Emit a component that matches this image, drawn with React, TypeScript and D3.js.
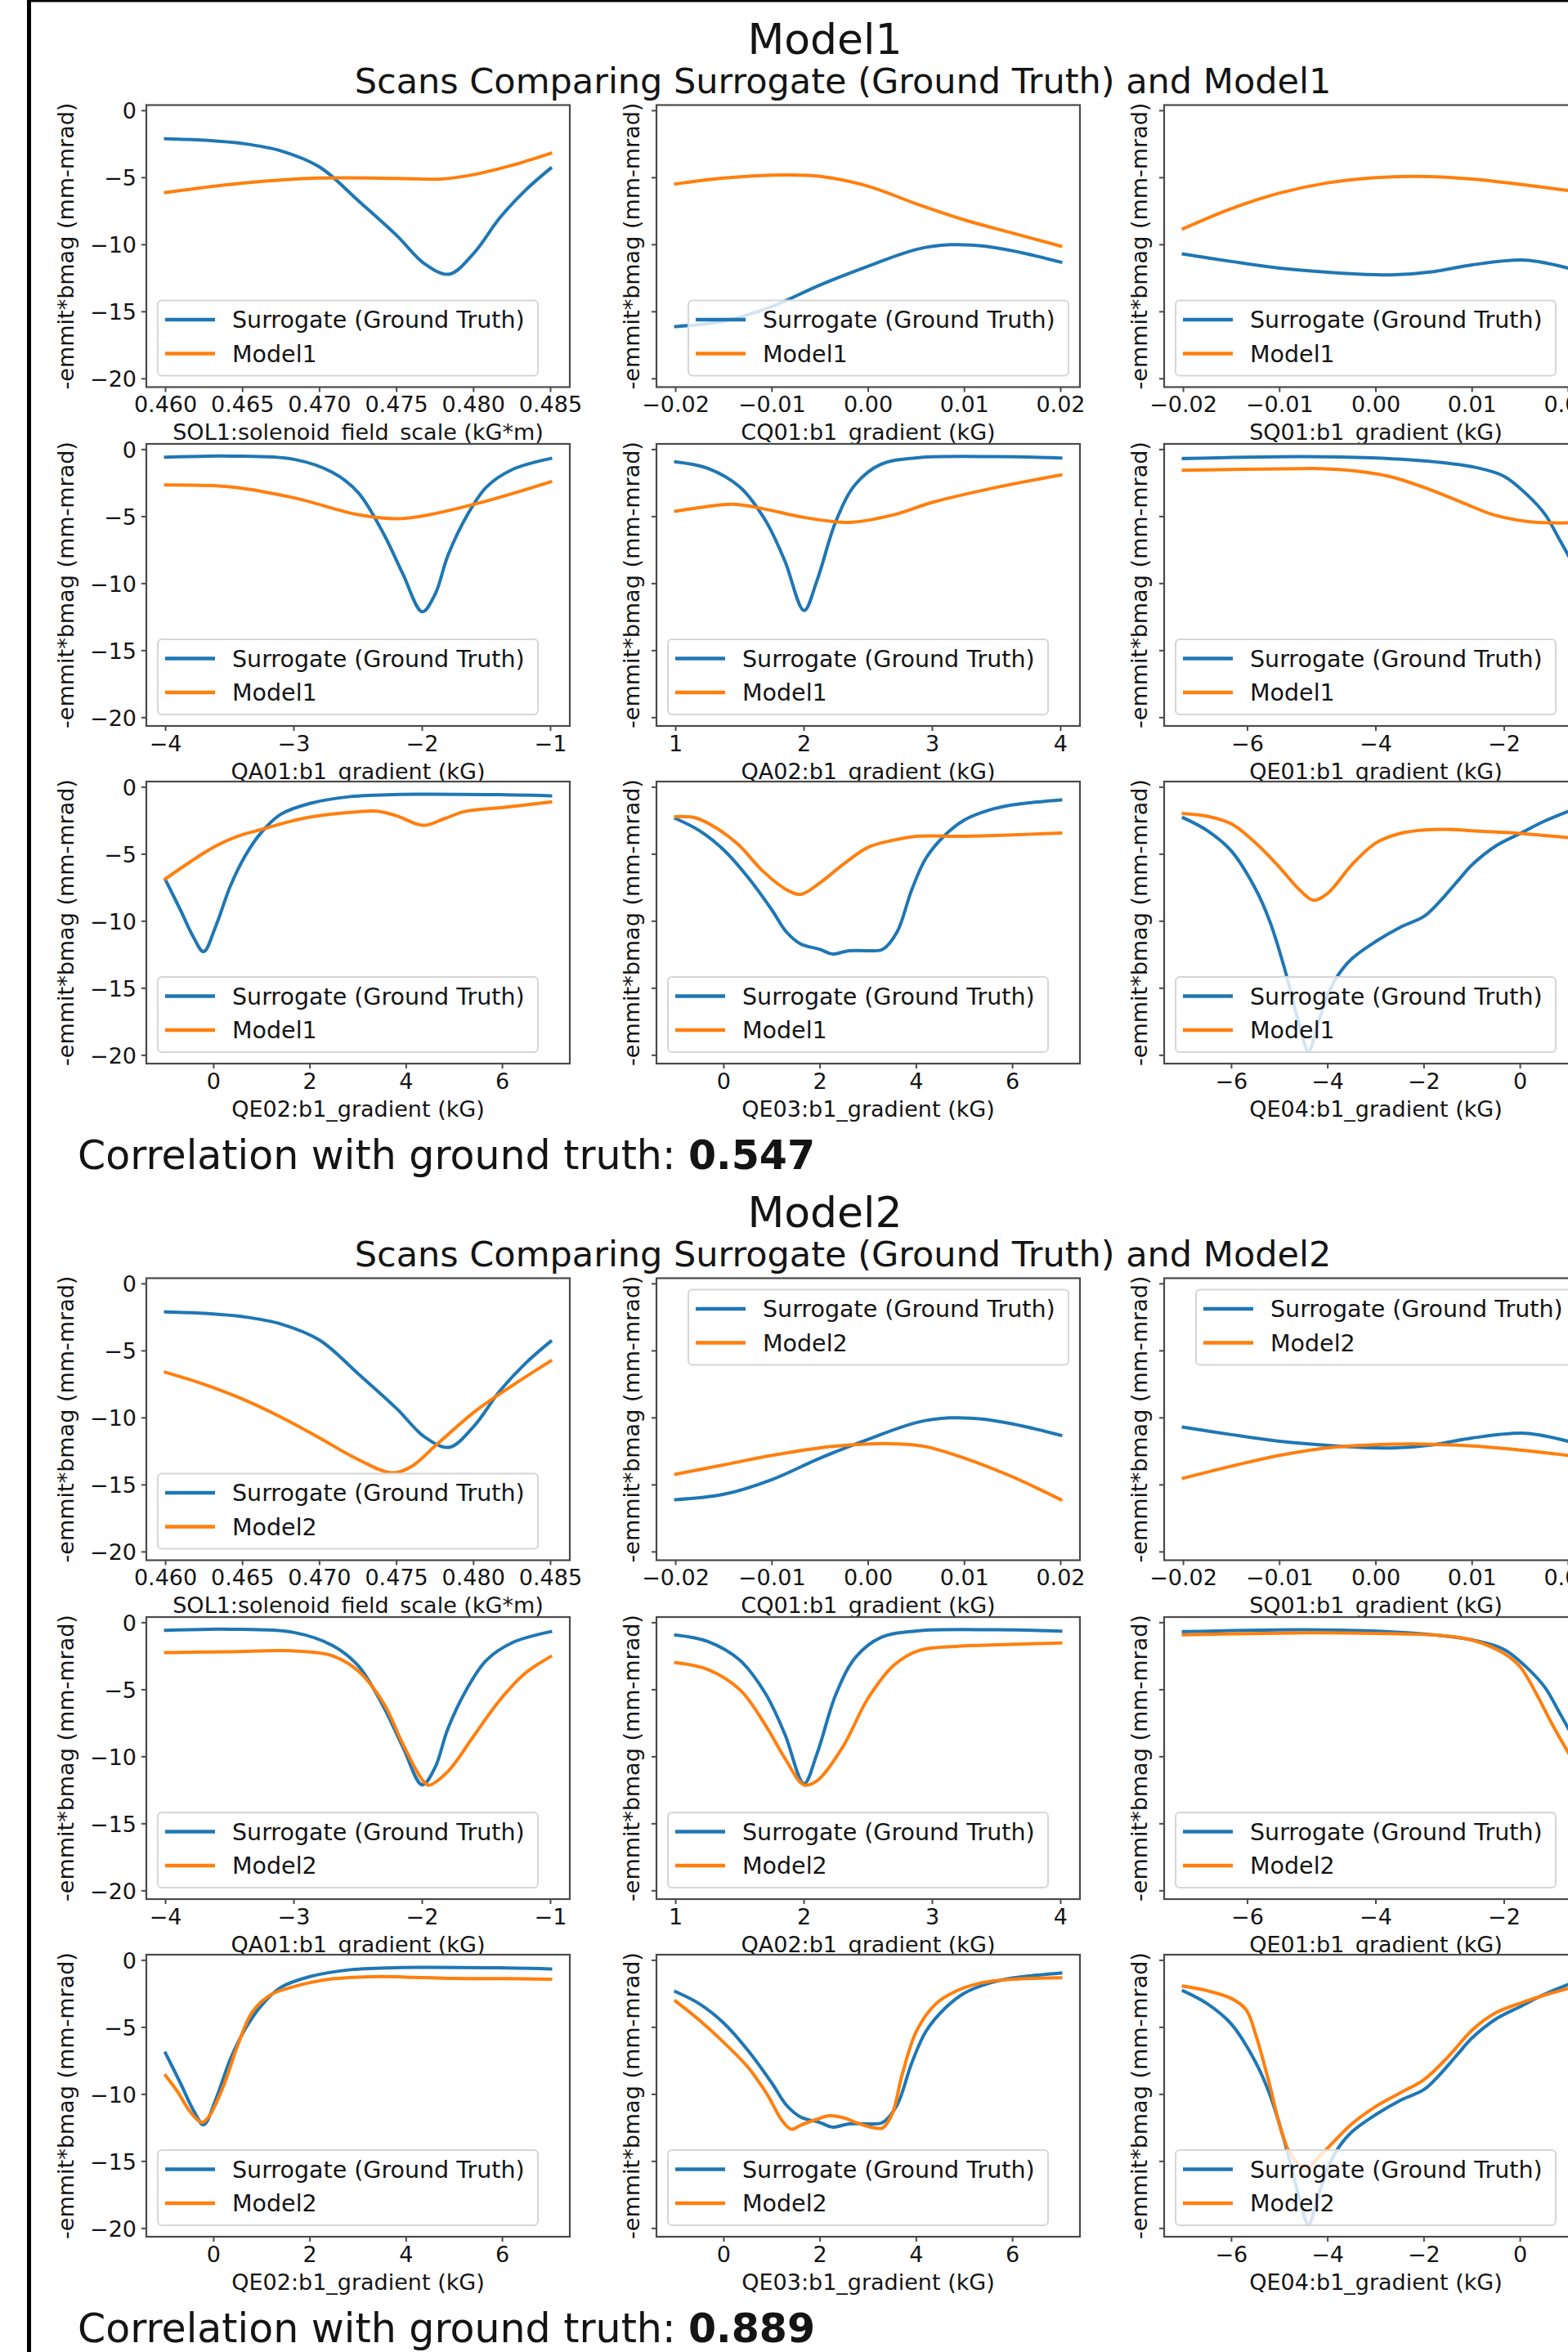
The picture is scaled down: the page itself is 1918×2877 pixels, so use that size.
import React from "react";
import * as d3 from "d3";

const W = 1918;
const H = 2877;
const FONT = "'DejaVu Sans', 'Liberation Sans', sans-serif";
const BLUE = "#1f77b4";
const ORANGE = "#ff7f0e";
const INK = "#141414";

// ---------- axis definitions ----------
const Y_TICKS = [0, -5, -10, -15, -20];
const Y_DOMAIN: [number, number] = [-20.62, 0.42];

const SOL1_TICKS = [0.46, 0.465, 0.47, 0.475, 0.48, 0.485];
const CQ01_TICKS = [-0.02, -0.01, 0, 0.01, 0.02];
const SQ01_TICKS = [-0.02, -0.01, 0, 0.01, 0.02];
const QA01_TICKS = [-4, -3, -2, -1];
const QA02_TICKS = [1, 2, 3, 4];
const QE01_TICKS = [-6, -4, -2];
const QE02_TICKS = [0, 2, 4, 6];
const QE03_TICKS = [0, 2, 4, 6];
const QE04_TICKS = [-6, -4, -2, 0];

const X_LABELS = [
  "SOL1:solenoid_field_scale (kG*m)",
  "CQ01:b1_gradient (kG)",
  "SQ01:b1_gradient (kG)",
  "QA01:b1_gradient (kG)",
  "QA02:b1_gradient (kG)",
  "QE01:b1_gradient (kG)",
  "QE02:b1_gradient (kG)",
  "QE03:b1_gradient (kG)",
  "QE04:b1_gradient (kG)",
];
const X_RANGES: [number, number][] = [
  [0.46, 0.485], [-0.02, 0.02], [-0.02, 0.02],
  [-4, -1], [1, 4], [-7, -1],
  [-1, 7], [-1, 7], [-7, 1],
];

// ---------- surrogate (ground truth) ----------
const SOL1_SURR_X = [0.46, 0.4625, 0.465, 0.4675, 0.47, 0.4725, 0.475, 0.4768, 0.4784, 0.48, 0.4817, 0.4834, 0.485];
const SOL1_SURR_Y = [-2.09, -2.2, -2.45, -3.0, -4.2, -6.7, -9.3, -11.4, -12.2, -10.65, -8.0, -5.9, -4.3];
const CQ01_SURR_X = [-0.02, -0.015, -0.01, -0.005, 0, 0.005, 0.0085, 0.012, 0.016, 0.02];
const CQ01_SURR_Y = [-16.1, -15.7, -14.6, -13.0, -11.6, -10.35, -10.0, -10.1, -10.6, -11.3];
const SQ01_SURR_X = [-0.02, -0.015, -0.01, -0.005, 0, 0.002, 0.006, 0.01, 0.0155, 0.02];
const SQ01_SURR_Y = [-10.7, -11.25, -11.74, -12.05, -12.24, -12.24, -12.0, -11.5, -11.15, -11.75];
const QA01_SURR_X = [-4, -3.5, -3, -2.7, -2.5, -2.3, -2.15, -2.0, -1.9, -1.8, -1.65, -1.5, -1.3, -1.0];
const QA01_SURR_Y = [-0.57, -0.49, -0.73, -1.7, -3.2, -6.3, -9.3, -12.1, -10.8, -7.9, -4.9, -2.8, -1.5, -0.67];
const QA02_SURR_X = [1.0, 1.25, 1.5, 1.7, 1.85, 2.0, 2.1, 2.25, 2.4, 2.6, 2.9, 3.5, 4.0];
const QA02_SURR_Y = [-0.92, -1.4, -2.8, -5.3, -8.3, -12.0, -9.8, -5.3, -2.6, -1.1, -0.6, -0.53, -0.63];
const QE01_SURR_X = [-7, -5.15, -4.06, -2.98, -2.44, -2.0, -1.63, -1.36, -1.14, -1.0];
const QE01_SURR_Y = [-0.67, -0.52, -0.62, -0.97, -1.34, -2.0, -3.43, -4.86, -6.7, -7.9];
const QE02_SURR_X = [-1, -0.69, -0.42, -0.21, 0.04, 0.35, 0.66, 0.97, 1.39, 2.0, 2.84, 3.88, 5.95, 7.0];
const QE02_SURR_Y = [-6.93, -9.17, -11.2, -12.27, -10.4, -7.34, -5.09, -3.46, -2.03, -1.21, -0.7, -0.54, -0.56, -0.64];
const QE03_SURR_X = [-1, -0.5, 0, 0.5, 1, 1.3, 1.6, 2, 2.25, 2.6, 3.0, 3.3, 3.6, 3.9, 4.2, 4.6, 5.0, 5.5, 6.0, 6.5, 7.0];
const QE03_SURR_Y = [-2.34, -3.26, -4.69, -6.72, -9.17, -10.8, -11.7, -12.1, -12.44, -12.2, -12.2, -12.1, -10.8, -7.7, -5.3, -3.56, -2.44, -1.72, -1.32, -1.11, -0.95];
const QE04_SURR_X = [-7, -6.5, -6, -5.5, -5.2, -4.9, -4.6, -4.4, -4.2, -4.0, -3.8, -3.5, -3.0, -2.5, -2.0, -1.7, -1.3, -1.0, -0.5, 0, 0.5, 1.0];
const QE04_SURR_Y = [-2.29, -3.25, -4.77, -7.6, -10.05, -13.5, -17.6, -19.7, -17.6, -15.5, -14.1, -12.8, -11.5, -10.46, -9.64, -8.63, -7.0, -5.79, -4.37, -3.45, -2.54, -1.8];

// ---------- Model1 ----------
const SOL1_M1_X = [0.46, 0.465, 0.47, 0.475, 0.4779, 0.48, 0.4824, 0.485];
const SOL1_M1_Y = [-6.1, -5.4, -5.03, -5.05, -5.1, -4.77, -4.1, -3.18];
const CQ01_M1_X = [-0.02, -0.015, -0.0085, -0.005, 0, 0.005, 0.01, 0.015, 0.02];
const CQ01_M1_Y = [-5.47, -5.03, -4.8, -4.9, -5.64, -6.95, -8.15, -9.13, -10.1];
const SQ01_M1_X = [-0.02, -0.015, -0.01, -0.005, 0, 0.0043, 0.01, 0.015, 0.02];
const SQ01_M1_Y = [-8.8, -7.3, -6.14, -5.38, -4.99, -4.9, -5.1, -5.5, -5.95];
const QA01_M1_X = [-4, -3.5, -3, -2.5, -2.2, -2.0, -1.5, -1.0];
const QA01_M1_Y = [-2.65, -2.78, -3.6, -4.86, -5.16, -4.96, -3.84, -2.41];
const QA02_M1_X = [1.0, 1.25, 1.45, 1.7, 2.0, 2.35, 2.7, 3.0, 3.5, 4.0];
const QA02_M1_Y = [-4.6, -4.24, -4.08, -4.45, -5.06, -5.43, -4.86, -3.94, -2.82, -1.9];
const QE01_M1_X = [-7, -5.15, -4.88, -4.33, -3.79, -3.25, -2.71, -2.17, -1.63, -1.25, -1.0];
const QE01_M1_Y = [-1.55, -1.42, -1.42, -1.59, -2.0, -2.82, -3.84, -4.86, -5.37, -5.47, -5.47];
const QE02_M1_X = [-1, -0.5, 0, 0.5, 1, 1.5, 2, 3, 3.4, 3.8, 4.35, 4.8, 5.2, 6, 7];
const QE02_M1_Y = [-6.83, -5.6, -4.48, -3.66, -3.15, -2.64, -2.23, -1.83, -1.79, -2.13, -2.85, -2.34, -1.83, -1.52, -1.11];
const QE03_M1_X = [-1, -0.6, -0.2, 0.3, 0.8, 1.3, 1.6, 2.0, 2.5, 3.0, 3.5, 4.0, 5.0, 6.0, 7.0];
const QE03_M1_Y = [-2.2, -2.28, -2.95, -4.28, -6.22, -7.64, -7.99, -7.13, -5.7, -4.48, -3.97, -3.66, -3.66, -3.56, -3.42];
const QE04_M1_X = [-7, -6.5, -6, -5.5, -5.0, -4.6, -4.3, -4.0, -3.5, -3.0, -2.5, -2.0, -1.5, -1.0, -0.5, 0, 0.5, 1.0];
const QE04_M1_Y = [-1.97, -2.17, -2.74, -4.16, -5.99, -7.61, -8.43, -7.92, -5.79, -4.16, -3.45, -3.19, -3.15, -3.25, -3.35, -3.45, -3.6, -3.76];

// ---------- Model2 ----------
const SOL1_M2_X = [0.46, 0.4625, 0.465, 0.4675, 0.47, 0.4725, 0.4747, 0.476, 0.4775, 0.48, 0.4825, 0.485];
const SOL1_M2_Y = [-6.6, -7.5, -8.6, -9.95, -11.5, -13.1, -14.1, -13.6, -12.1, -9.6, -7.6, -5.76];
const CQ01_M2_X = [-0.02, -0.015, -0.01, -0.005, 0, 0.003, 0.006, 0.01, 0.015, 0.02];
const CQ01_M2_Y = [-14.2, -13.5, -12.8, -12.23, -11.94, -11.94, -12.15, -13.0, -14.4, -16.1];
const SQ01_M2_X = [-0.02, -0.015, -0.01, -0.005, 0, 0.004, 0.01, 0.015, 0.02];
const SQ01_M2_Y = [-14.5, -13.6, -12.8, -12.23, -12.0, -11.94, -12.1, -12.4, -12.8];
const QA01_M2_X = [-4, -3.5, -3, -2.7, -2.5, -2.3, -2.15, -2.0, -1.95, -1.8, -1.6, -1.4, -1.2, -1.0];
const QA01_M2_Y = [-2.23, -2.17, -2.11, -2.47, -3.59, -6.03, -9.07, -11.72, -12.12, -11.1, -8.47, -5.83, -3.79, -2.53];
const QA02_M2_X = [1.0, 1.25, 1.5, 1.7, 1.85, 2.0, 2.1, 2.3, 2.5, 2.7, 2.9, 3.2, 3.6, 4.0];
const QA02_M2_Y = [-2.98, -3.49, -5.0, -7.65, -10.1, -12.1, -11.8, -9.3, -5.62, -3.18, -2.06, -1.76, -1.62, -1.51];
const QE01_M2_X = [-7, -6, -5, -4, -3, -2.5, -2.0, -1.75, -1.5, -1.25, -1.0];
const QE01_M2_Y = [-0.9, -0.82, -0.76, -0.8, -0.95, -1.3, -2.3, -3.3, -5.3, -7.6, -9.7];
const QE02_M2_X = [-1, -0.75, -0.5, -0.25, -0.1, 0.2, 0.5, 0.8, 1.2, 1.6, 2.0, 2.5, 3.0, 3.5, 4.0, 5.0, 6.0, 7.0];
const QE02_M2_Y = [-8.6, -9.8, -11.25, -12.1, -11.66, -9.4, -6.33, -3.87, -2.54, -2.03, -1.66, -1.37, -1.25, -1.21, -1.25, -1.35, -1.37, -1.41];
const QE03_M2_X = [-1, -0.5, 0, 0.5, 0.9, 1.2, 1.4, 1.6, 1.9, 2.2, 2.5, 2.8, 3.1, 3.3, 3.5, 3.7, 4.0, 4.4, 4.8, 5.3, 6.0, 7.0];
const QE03_M2_Y = [-3.05, -4.49, -6.13, -7.97, -10.0, -11.9, -12.6, -12.3, -11.9, -11.6, -11.76, -12.17, -12.48, -12.5, -11.45, -8.6, -5.3, -3.26, -2.34, -1.72, -1.41, -1.31];
const QE04_M2_X = [-7, -6.5, -6, -5.7, -5.5, -5.2, -5.0, -4.8, -4.6, -4.45, -4.25, -4.0, -3.5, -3.0, -2.5, -2.0, -1.5, -1.0, -0.5, 0, 0.5, 1.0];
const QE04_M2_Y = [-1.93, -2.27, -2.85, -3.67, -5.5, -9.4, -12.3, -14.3, -15.2, -15.6, -14.9, -14.0, -12.2, -10.9, -9.9, -8.9, -7.2, -5.2, -3.9, -3.2, -2.6, -2.1];

const MODEL_NAMES = ["Model1", "Model2"];
const CORRELATIONS = ["0.547", "0.889"];

// ---------- assembled ----------
const TICKS = [SOL1_TICKS, CQ01_TICKS, SQ01_TICKS, QA01_TICKS, QA02_TICKS, QE01_TICKS, QE02_TICKS, QE03_TICKS, QE04_TICKS];
const TICK_FMT = [".3f", ".2f", ".2f", "d", "d", "d", "d", "d", "d"];
const SURR = [
  [SOL1_SURR_X, SOL1_SURR_Y], [CQ01_SURR_X, CQ01_SURR_Y], [SQ01_SURR_X, SQ01_SURR_Y],
  [QA01_SURR_X, QA01_SURR_Y], [QA02_SURR_X, QA02_SURR_Y], [QE01_SURR_X, QE01_SURR_Y],
  [QE02_SURR_X, QE02_SURR_Y], [QE03_SURR_X, QE03_SURR_Y], [QE04_SURR_X, QE04_SURR_Y],
];
const MODELS = [
  [
    [SOL1_M1_X, SOL1_M1_Y], [CQ01_M1_X, CQ01_M1_Y], [SQ01_M1_X, SQ01_M1_Y],
    [QA01_M1_X, QA01_M1_Y], [QA02_M1_X, QA02_M1_Y], [QE01_M1_X, QE01_M1_Y],
    [QE02_M1_X, QE02_M1_Y], [QE03_M1_X, QE03_M1_Y], [QE04_M1_X, QE04_M1_Y],
  ],
  [
    [SOL1_M2_X, SOL1_M2_Y], [CQ01_M2_X, CQ01_M2_Y], [SQ01_M2_X, SQ01_M2_Y],
    [QA01_M2_X, QA01_M2_Y], [QA02_M2_X, QA02_M2_Y], [QE01_M2_X, QE01_M2_Y],
    [QE02_M2_X, QE02_M2_Y], [QE03_M2_X, QE03_M2_Y], [QE04_M2_X, QE04_M2_Y],
  ],
];
// legend placement per panel: ll = lower left, lr = lower right, ur = upper right
const LEGEND_LOC = [
  ["ll", "lr", "ll", "ll", "ll", "ll", "ll", "ll", "ll"],
  ["ll", "ur", "ur", "ll", "ll", "ll", "ll", "ll", "ll"],
];

// ---------- layout ----------
const COL_LEFT = [179, 803, 1424];
const ROW_TOP = [128.5, 543, 956];
const AW = 518;
const AH = 345;
const SECTION_DY = 1435;
const TICK_FS = 27;
const LEG_FS = 28.5;
const LEG_W = 465;
const LEG_H = 92;

function zip(xs: number[], ys: number[]): [number, number][] {
  return xs.map((x, i) => [x, ys[i]]);
}

function Panel(props: { m: number; p: number }) {
  const { m, p } = props;
  const row = Math.floor(p / 3);
  const col = p % 3;
  const x0 = COL_LEFT[col];
  const y0 = ROW_TOP[row] + m * SECTION_DY;
  const [a, b] = X_RANGES[p];
  const pad = (b - a) * 0.05;
  const xs = d3.scaleLinear().domain([a - pad, b + pad]).range([x0, x0 + AW]);
  const ys = d3.scaleLinear().domain(Y_DOMAIN).range([y0 + AH, y0]);
  const line = d3
    .line<[number, number]>()
    .x((d) => xs(d[0]))
    .y((d) => ys(d[1]))
    .curve(d3.curveCatmullRom.alpha(0.5));
  const surr = zip(SURR[p][0], SURR[p][1]);
  const mod = zip(MODELS[m][p][0], MODELS[m][p][1]);
  const fmt = d3.format(TICK_FMT[p]);

  const loc = LEGEND_LOC[m][p];
  const lx = loc === "ll" ? x0 + 14 : x0 + AW - 14 - LEG_W;
  const ly = loc === "ur" ? y0 + 14 : y0 + AH - 14 - LEG_H;
  const entries = [
    { label: "Surrogate (Ground Truth)", color: BLUE, dy: 23.5 },
    { label: MODEL_NAMES[m], color: ORANGE, dy: 65 },
  ];

  return (
    <g>
      <rect x={x0} y={y0} width={AW} height={AH} fill="#fff" />
      <path d={line(surr) || ""} fill="none" stroke={BLUE} strokeWidth={4} strokeLinejoin="round" strokeLinecap="square" />
      <path d={line(mod) || ""} fill="none" stroke={ORANGE} strokeWidth={4} strokeLinejoin="round" strokeLinecap="square" />
      {/* spines */}
      <rect x={x0} y={y0} width={AW} height={AH} fill="none" stroke="#4a4a4a" strokeWidth={2.2} />
      {/* legend */}
      <g>
        <rect x={lx} y={ly} width={LEG_W} height={LEG_H} rx={5} ry={5} fill="#fff" fillOpacity={0.8} stroke="#d6d6d6" strokeWidth={2} />
        {entries.map((e, i) => (
          <g key={i}>
            <line x1={lx + 9} x2={lx + 70} y1={ly + e.dy} y2={ly + e.dy} stroke={e.color} strokeWidth={4.5} />
            <text x={lx + 91} y={ly + e.dy + 10} fontSize={LEG_FS} fill={INK} fontFamily={FONT}>
              {e.label}
            </text>
          </g>
        ))}
      </g>
      {/* y ticks */}
      {Y_TICKS.map((t) => (
        <g key={"y" + t}>
          <line x1={x0 - 6} x2={x0} y1={ys(t)} y2={ys(t)} stroke="#4a4a4a" strokeWidth={2} />
          {col === 0 && (
            <text x={x0 - 12} y={ys(t) + 9.7} fontSize={TICK_FS} textAnchor="end" fill={INK} fontFamily={FONT}>
              {d3.format("d")(t)}
            </text>
          )}
        </g>
      ))}
      {/* x ticks */}
      {TICKS[p].map((t) => (
        <g key={"x" + t}>
          <line x1={xs(t)} x2={xs(t)} y1={y0 + AH} y2={y0 + AH + 6} stroke="#4a4a4a" strokeWidth={2} />
          <text x={xs(t)} y={y0 + AH + 30.5} fontSize={TICK_FS} textAnchor="middle" fill={INK} fontFamily={FONT}>
            {fmt(t)}
          </text>
        </g>
      ))}
      {/* x label */}
      <text x={x0 + AW / 2} y={y0 + AH + 64.5} fontSize={TICK_FS} textAnchor="middle" fill={INK} fontFamily={FONT}>
        {X_LABELS[p]}
      </text>
      {/* y label */}
      <text
        transform={`translate(${col === 0 ? 90 : x0 - 21},${y0 + AH / 2}) rotate(-90)`}
        fontSize={TICK_FS}
        textAnchor="middle"
        fill={INK}
        fontFamily={FONT}
      >
        -emmit*bmag (mm-mrad)
      </text>
    </g>
  );
}

function Section(props: { m: number }) {
  const { m } = props;
  const dy = m * SECTION_DY;
  return (
    <g>
      <text x={1009} y={66 + dy} fontSize={52} textAnchor="middle" fill={INK} fontFamily={FONT}>
        {MODEL_NAMES[m]}
      </text>
      <text x={1031} y={114 + dy} fontSize={43} textAnchor="middle" fill={INK} fontFamily={FONT}>
        {`Scans Comparing Surrogate (Ground Truth) and ${MODEL_NAMES[m]}`}
      </text>
      {d3.range(9).map((p) => (
        <Panel key={p} m={m} p={p} />
      ))}
      <text x={95} y={1430 + dy} fontSize={49} fill={INK} fontFamily={FONT}>
        {"Correlation with ground truth: "}
        <tspan fontWeight="bold">{CORRELATIONS[m]}</tspan>
      </text>
    </g>
  );
}

export default function App() {
  return (
    <svg
      width={W}
      height={H}
      viewBox={`0 0 ${W} ${H}`}
      style={{ position: "absolute", left: 0, top: 0, background: "#fff" }}
    >
      <rect x={0} y={0} width={W} height={H} fill="#fff" />
      {MODEL_NAMES.map((_, m) => (
        <Section key={m} m={m} />
      ))}
      {/* outer frame (left and top edges visible) */}
      <line x1={35.5} x2={35.5} y1={0} y2={H} stroke="#000" strokeWidth={5} />
      <line x1={33} x2={W} y1={1.3} y2={1.3} stroke="#000" strokeWidth={2.6} />
    </svg>
  );
}
